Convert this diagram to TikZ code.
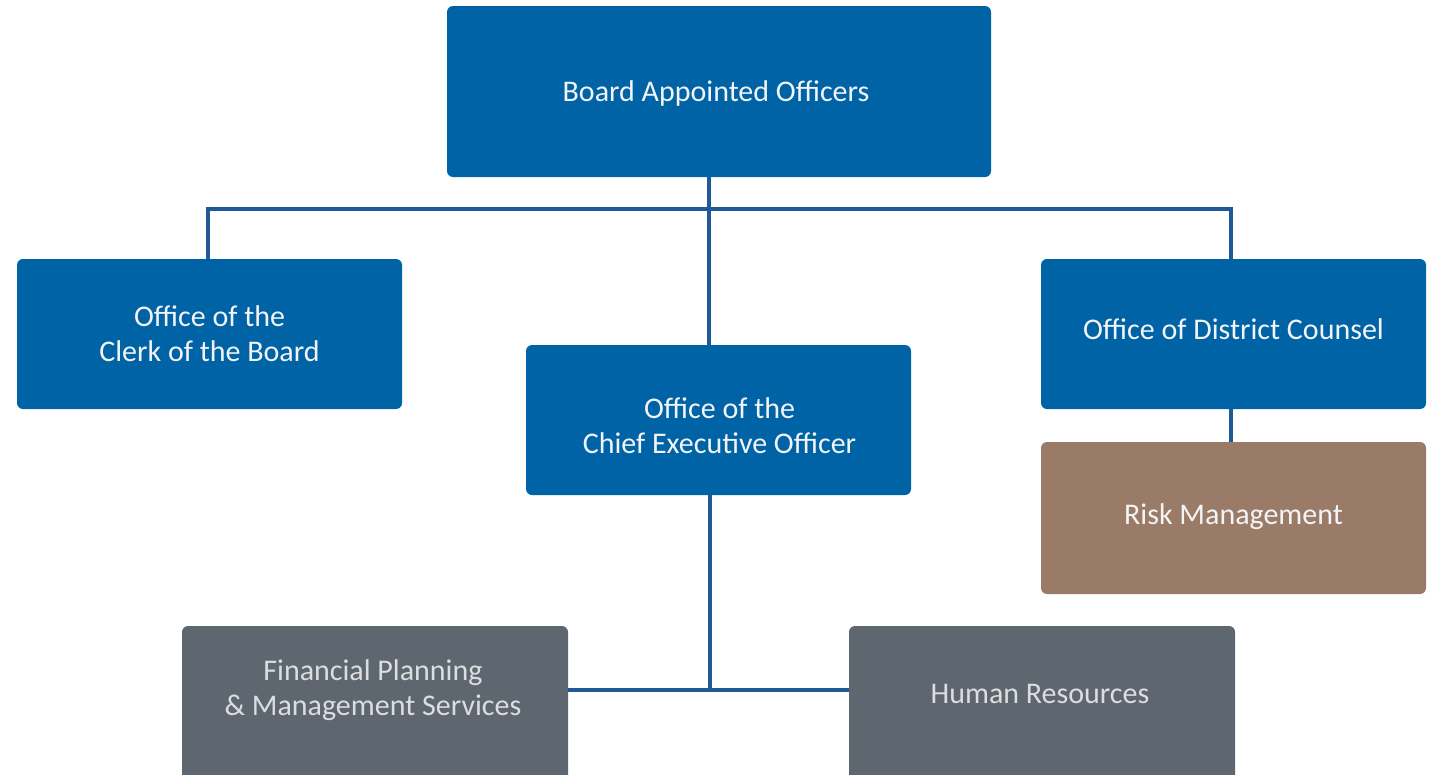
\documentclass[tikz,border=0pt]{standalone}
\usepackage{fontspec}
\setmainfont{Carlito}
\definecolor{boxblue}{HTML}{0063A6}
\definecolor{boxgray}{HTML}{5E6770}
\definecolor{boxbrown}{HTML}{9A7B67}
\definecolor{linkblue}{HTML}{1F5A96}
\definecolor{txtwhite}{HTML}{F2F4F7}
\definecolor{txtgray}{HTML}{DCDDDF}
\begin{document}
\begin{tikzpicture}[x=1pt,y=-1pt,
  box/.style={rectangle,rounded corners=6pt,inner sep=0pt,draw=none},
  bluebox/.style={box,fill=boxblue},
  graybox/.style={box,fill=boxgray},
  brownbox/.style={box,fill=boxbrown},
  txt/.style={align=center,inner sep=0pt,font=\fontsize{30}{35}\selectfont,text=txtwhite},
  gtxt/.style={txt,text=txtgray},
  link/.style={draw=linkblue,line width=4pt}]
\useasboundingbox (0,0) rectangle (1430,774);
\clip (0,0) rectangle (1430,774);
% boxes
\node[bluebox,minimum width=544pt,minimum height=171pt] (board) at (719,91.5) {};
\node[bluebox,minimum width=385pt,minimum height=150pt] (clerk) at (209.5,334) {};
\node[bluebox,minimum width=385pt,minimum height=150pt] (ceo) at (718.5,420) {};
\node[bluebox,minimum width=385pt,minimum height=150pt] (dist) at (1233.5,334) {};
\node[brownbox,minimum width=385pt,minimum height=152pt] (risk) at (1233.5,518) {};
\node[graybox,minimum width=386pt,minimum height=170pt] (fin) at (375,711) {};
\node[graybox,minimum width=386pt,minimum height=170pt] (hr) at (1042,711) {};
% texts
\node[txt] (boardt) at (716,93) {Board Appointed Officers};
\node[txt] (clerkt) at (209.5,334) {Office of the\\Clerk of the Board};
\node[txt] (ceot) at (719.5,426) {Office of the\\Chief Executive Officer};
\node[txt] (distt) at (1233.5,329) {Office of District Counsel};
\node[txt] (riskt) at (1233.5,517) {Risk Management};
\node[gtxt] (fint) at (373,690) {Financial Planning\\\& Management Services};
\node[gtxt] (hrt) at (1040,694) {Human Resources};
% connector coordinates
\coordinate (bus) at (709,209);
\coordinate (low) at (710,690);
% connectors
\draw[link] (board.south -| bus) -- (ceo.north -| bus);
\draw[link] (clerk.north -| 208,0) |- (bus) -| (dist.north -| 1231,0);
\draw[link] (dist.south -| 1231,0) -- (risk.north -| 1231,0);
\draw[link] (ceo.south -| low) -- (low);
\draw[link] (fin.east |- low) -- (hr.west |- low);
\end{tikzpicture}
\end{document}
